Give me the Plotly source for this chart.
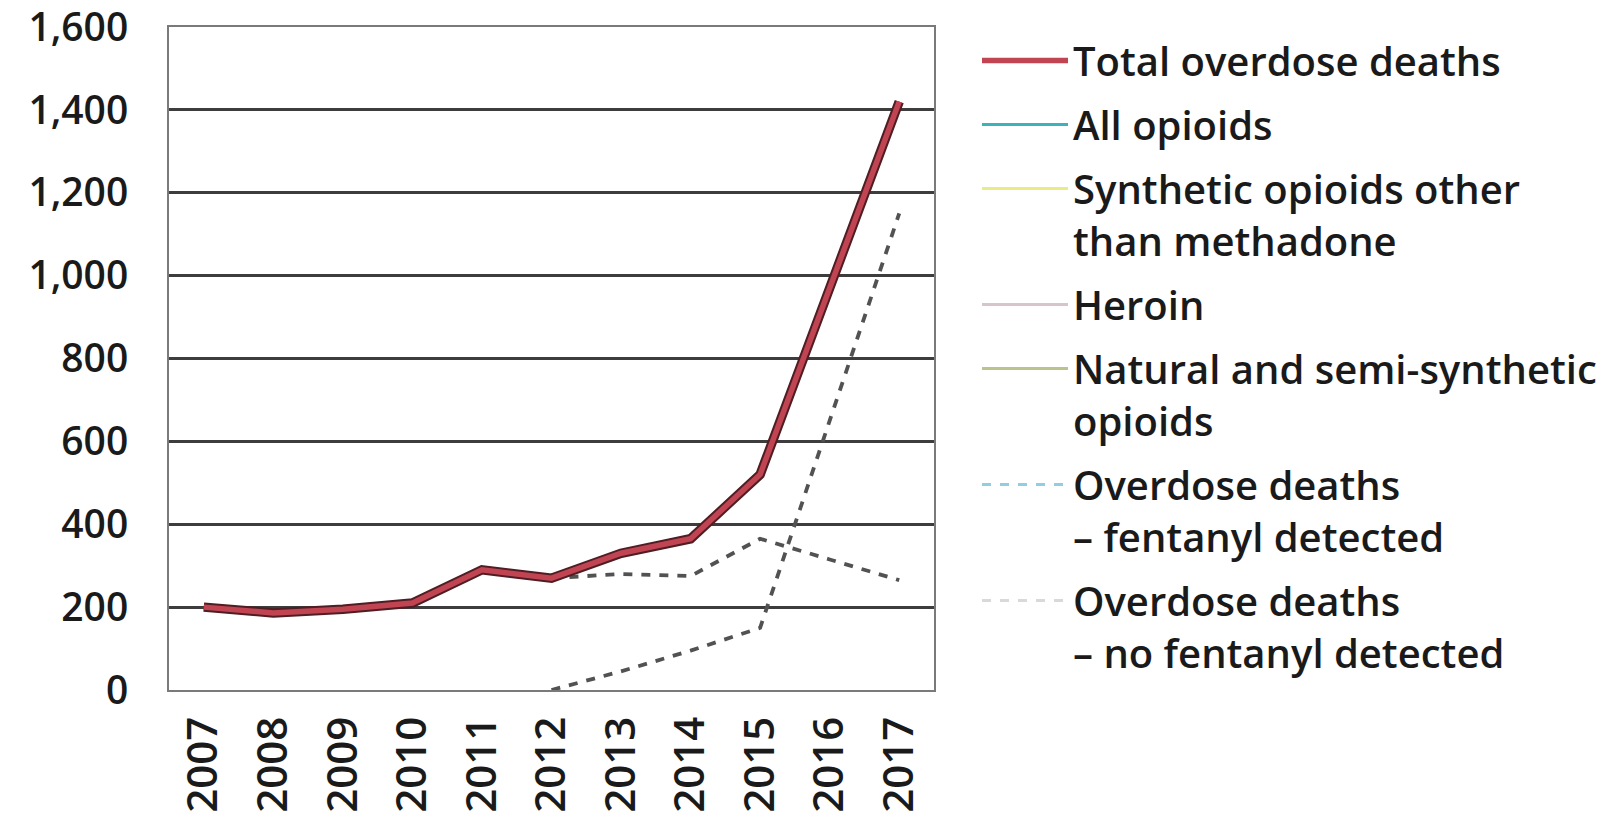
import plotly.graph_objects as go

years = ["2007", "2008", "2009", "2010", "2011", "2012", "2013", "2014", "2015", "2016", "2017"]
total_deaths = [200, 186, 195, 210, 290, 270, 330, 365, 520, 970, 1420]
fentanyl_detected = [None, None, None, None, None, 0, 45, 95, 150, 650, 1150]
no_fentanyl_detected = [None, None, None, None, None, 270, 280, 275, 365, 315, 265]
empty_series = [None] * len(years)

legend_names = [
    "Total overdose deaths",
    "All opioids",
    "Synthetic opioids other<br>than methadone",
    "Heroin",
    "Natural and semi-synthetic<br>opioids",
    "Overdose deaths<br>– fentanyl detected",
    "Overdose deaths<br>– no fentanyl detected",
]
y_ticks = [0, 200, 400, 600, 800, 1000, 1200, 1400, 1600]

FONT = "Open Sans"
TXT = "#1a1a1a"
W, H = 1610, 821
fig = go.Figure()

# plotted dashed series (dark grey in the plot)
fig.add_trace(go.Scatter(x=years, y=no_fentanyl_detected, mode="lines", showlegend=False,
                         line=dict(color="#525252", width=3.8, dash="9px,9px"), hoverinfo="skip"))
fig.add_trace(go.Scatter(x=years, y=fentanyl_detected, mode="lines", showlegend=False,
                         line=dict(color="#525252", width=3.8, dash="9px,9px"), hoverinfo="skip"))
# total: dark outline under red core
fig.add_trace(go.Scatter(x=years, y=total_deaths, mode="lines", showlegend=False,
                         line=dict(color="#4f1d23", width=9.5), hoverinfo="skip"))
fig.add_trace(go.Scatter(x=years, y=total_deaths, mode="lines", name=legend_names[0],
                         legendgroup="g0", line=dict(color="#c04452", width=5.5)))

legend_styles = [
    ("#3bb3b8", "solid"),
    ("#e9ec86", "solid"),
    ("#d6c6cc", "solid"),
    ("#b9c38c", "solid"),
    ("#8fcfe0", "dash"),
    ("#d9d9d9", "dash"),
]
for i, (col, dash) in enumerate(legend_styles, start=1):
    fig.add_trace(go.Scatter(x=years, y=empty_series, mode="lines", name=legend_names[i],
                             legendgroup=f"g{i}", line=dict(color=col, width=3, dash=dash)))

fig.update_layout(
    width=W, height=H,
    paper_bgcolor="white", plot_bgcolor="white",
    margin=dict(l=169, r=676, t=27, b=131, autoexpand=False),
    font=dict(family=FONT, size=40, color=TXT, weight=600),
    showlegend=True,
    legend=dict(
        xref="container", yref="container",
        x=977 / W, y=1 - 28 / H, xanchor="left", yanchor="top",
        font=dict(family=FONT, size=40, color=TXT, weight=600),
        tracegroupgap=9, itemwidth=86, valign="top", maxheight=800,
        bgcolor="rgba(0,0,0,0)",
    ),
    xaxis=dict(
        type="category", categoryorder="array", categoryarray=years,
        range=[-0.5, 10.5], tickangle=-90, showgrid=False, automargin=False,
        showline=True, linecolor="#7a7a7a", linewidth=2, mirror=True,
        ticks="", ticklabelstandoff=8, ticklabeloverflow="allow",
        tickfont=dict(family=FONT, size=42, color=TXT, weight=600),
    ),
    yaxis=dict(
        range=[0, 1600], tickvals=y_ticks, tickformat=",d", automargin=False,
        showgrid=True, gridcolor="#3d3d3d", gridwidth=2.5,
        showline=True, linecolor="#7a7a7a", linewidth=2, mirror=True,
        ticks="", ticklabelstandoff=31, zeroline=False, ticklabeloverflow="allow",
        tickfont=dict(family=FONT, size=39, color=TXT, weight=600),
    ),
)

fig.write_html("out.html", config={"displayModeBar": False},
               post_script="document.body.style.margin='0';")
